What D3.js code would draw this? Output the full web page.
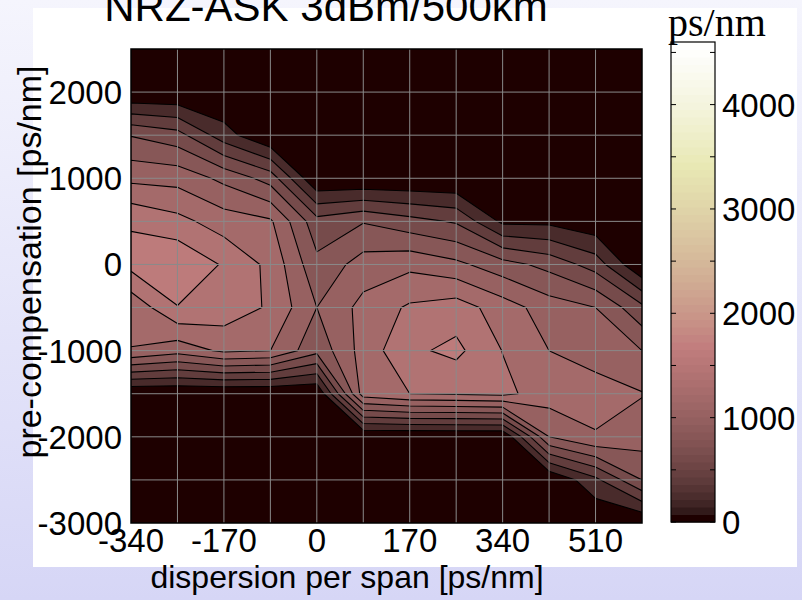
<!DOCTYPE html>
<html>
<head>
<meta charset="utf-8">
<script src="https://d3js.org/d3.v7.min.js"></script>
<style>
body { margin: 0; }
text { font-family: "Liberation Sans", Arial, sans-serif; fill: #000; }
</style>
</head>
<body>
<svg width="802" height="600"></svg>
<script>
// dispersion per span (columns) and pre-compensation (rows, top to bottom)
var dispersion = [-340, -255, -170, -85, 0, 85, 170, 255, 340, 425, 510, 595];
var precomp = [2500, 2000, 1500, 1000, 500, 0, -500, -1000, -1500, -2000, -2500, -3000];
// dispersion tolerance [ps/nm], one row per pre-compensation value
var tolerance = [
  [0, 0, 0, 0, 0, 0, 0, 0, 0, 0, 0, 0],
  [0, 0, 0, 0, 0, 0, 0, 0, 0, 0, 0, 0],
  [790, 680, 286, 0, 0, 0, 0, 0, 0, 0, 0, 0],
  [1150, 1130, 950, 717, 0, 0, 0, 0, 0, 0, 0, 0],
  [1580, 1463, 1300, 1230, 674, 787, 674, 577, 154, 150, 50, 0],
  [1666, 1780, 1578, 1348, 852, 1088, 1150, 1050, 880, 736, 510, 0],
  [1250, 1591, 1520, 1373, 1000, 1263, 1430, 1500, 1300, 1100, 1000, 650],
  [1195, 1078, 1240, 1200, 860, 1280, 1560, 1650, 1395, 1200, 1150, 1000],
  [0, 0, 0, 0, 0, 1300, 1400, 1420, 1450, 1300, 1250, 1210],
  [0, 0, 0, 0, 0, 0, 0, 0, 0, 1000, 1190, 1100],
  [0, 0, 0, 0, 0, 0, 0, 0, 0, 0, 350, 800],
  [0, 0, 0, 0, 0, 0, 0, 0, 0, 0, 0, 0]
];
var levels = [200, 400, 600, 800, 1000, 1200, 1400, 1600];
var xTicks = [-340, -170, 0, 170, 340, 510];
var yTicks = [2000, 1000, 0, -1000, -2000, -3000];
var barTicks = [0, 1000, 2000, 3000, 4000];
var barMax = 4600;

var svg = d3.select("svg");

// matlab "pink" colormap, t in [0,1]
function pink(t) {
  var i = Math.max(0, Math.min(63, t * 63));
  var g = i / 63;
  var hr = Math.min(1, (i + 1) / 24);
  var hg = Math.max(0, Math.min(1, (i + 1 - 24) / 24));
  var hb = Math.max(0, Math.min(1, (i + 1 - 48) / 16));
  return d3.rgb(255 * Math.sqrt((2 * g + hr) / 3), 255 * Math.sqrt((2 * g + hg) / 3), 255 * Math.sqrt((2 * g + hb) / 3));
}

// page background
var defs = svg.append("defs");
var bg = defs.append("linearGradient").attr("id", "bg").attr("x1", 0).attr("y1", 0).attr("x2", 0).attr("y2", 1);
bg.append("stop").attr("offset", 0).attr("stop-color", "#f5f5fd");
bg.append("stop").attr("offset", 1).attr("stop-color", "#d6d6f6");
svg.append("rect").attr("width", 802).attr("height", 600).attr("fill", "url(#bg)");
svg.append("rect").attr("x", 33).attr("y", 8).attr("width", 764).attr("height", 559).attr("fill", "#fff");

var x = d3.scaleLinear().domain([-340, 595]).range([131, 642]);
var y = d3.scaleLinear().domain([-3000, 2500]).range([523, 49]);

defs.append("clipPath").attr("id", "plotclip").append("rect")
  .attr("x", 131).attr("y", 49).attr("width", 511).attr("height", 474);

var plot = svg.append("g").attr("clip-path", "url(#plotclip)");
plot.append("rect").attr("x", 131).attr("y", 49).attr("width", 511).attr("height", 474)
  .attr("fill", pink(0));

var dx = dispersion[1] - dispersion[0];
var dy = precomp[0] - precomp[1];
var grid = d3.geoTransform({
  point: function(gx, gy) {
    this.stream.point(x(dispersion[0] + (gx - 0.5) * dx), y(precomp[0] - (gy - 0.5) * dy));
  }
});
var path = d3.geoPath(grid);
var values = [].concat.apply([], tolerance);
var bands = d3.contours().size([dispersion.length, precomp.length]).thresholds(levels)(values);

plot.selectAll("path.band").data(bands).enter().append("path")
  .attr("class", "band")
  .attr("d", path)
  .attr("fill", function(d) { return pink(d.value / barMax); })
  .attr("stroke", "#000")
  .attr("stroke-width", 1.1)
  .attr("stroke-linejoin", "round");

// grid
var gridX = d3.range(-255, 595, 85);
var gridY = d3.range(-2500, 2500, 500);
plot.selectAll("line.gx").data(gridX).enter().append("line")
  .attr("x1", function(d) { return x(d); }).attr("x2", function(d) { return x(d); })
  .attr("y1", 49).attr("y2", 523)
  .attr("stroke", "#8a8a8a").attr("stroke-width", 1);
plot.selectAll("line.gy").data(gridY).enter().append("line")
  .attr("y1", function(d) { return y(d); }).attr("y2", function(d) { return y(d); })
  .attr("x1", 131).attr("x2", 642)
  .attr("stroke", "#8a8a8a").attr("stroke-width", 1);

svg.append("rect").attr("x", 131).attr("y", 49).attr("width", 511).attr("height", 474)
  .attr("fill", "none").attr("stroke", "#000").attr("stroke-width", 1.5);

// tick labels
svg.selectAll("text.xt").data(xTicks).enter().append("text")
  .attr("x", function(d) { return x(d); }).attr("y", 552)
  .attr("text-anchor", "middle").style("font-size", "33px")
  .text(function(d) { return d; });
svg.selectAll("text.yt").data(yTicks).enter().append("text")
  .attr("x", 122).attr("y", function(d) { return y(d) + 12; })
  .attr("text-anchor", "end").style("font-size", "33px")
  .text(function(d) { return d; });

svg.append("text").attr("x", 347).attr("y", 588).attr("text-anchor", "middle")
  .style("font-size", "32px").text("dispersion per span [ps/nm]");
svg.append("text").attr("transform", "translate(41,262) rotate(-90)").attr("text-anchor", "middle")
  .style("font-size", "34px").text("pre-compensation [ps/nm]");
svg.append("text").attr("x", 326).attr("y", 21).attr("text-anchor", "middle")
  .style("font-size", "42px").text("NRZ-ASK 3dBm/500km");

// colorbar
var cb = d3.scaleLinear().domain([0, barMax]).range([522, 42]);
var nSeg = 64;
svg.selectAll("rect.cb").data(d3.range(nSeg)).enter().append("rect")
  .attr("x", 671).attr("width", 44)
  .attr("y", function(i) { return cb((i + 1) * barMax / nSeg); })
  .attr("height", function(i) { return cb(i * barMax / nSeg) - cb((i + 1) * barMax / nSeg) + 0.5; })
  .attr("fill", function(i) { return pink(i / (nSeg - 1)); });
svg.append("rect").attr("x", 671).attr("y", 42).attr("width", 44).attr("height", 480)
  .attr("fill", "none").attr("stroke", "#000").attr("stroke-width", 1.2);
var cbTicks = d3.range(0, barMax, 500);
svg.selectAll("line.cbl").data(cbTicks).enter().append("line")
  .attr("x1", 671).attr("x2", 676).attr("y1", function(d) { return cb(d); }).attr("y2", function(d) { return cb(d); })
  .attr("stroke", "#000");
svg.selectAll("line.cbr").data(cbTicks).enter().append("line")
  .attr("x1", 710).attr("x2", 715).attr("y1", function(d) { return cb(d); }).attr("y2", function(d) { return cb(d); })
  .attr("stroke", "#000");
svg.selectAll("text.cbt").data(barTicks).enter().append("text")
  .attr("x", 722).attr("y", function(d) { return cb(d) + 12; })
  .style("font-size", "33px").text(function(d) { return d; });
svg.append("text").attr("x", 668).attr("y", 36)
  .style("font-family", "'Liberation Serif', 'Times New Roman', serif").style("font-size", "40px").text("ps/nm");
</script>
</body>
</html>
